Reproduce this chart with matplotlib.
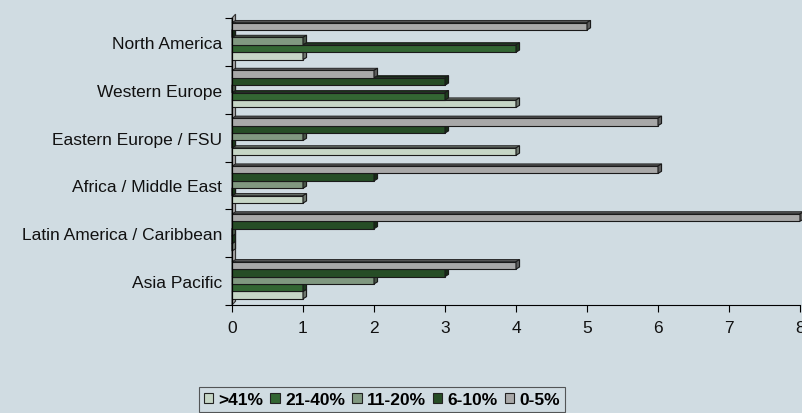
import matplotlib
matplotlib.use("Agg")
import matplotlib.pyplot as plt
from matplotlib.patches import Polygon, Rectangle, Patch
from matplotlib.ticker import FixedLocator, NullFormatter
import numpy as np

plt.rcParams['font.family'] = ['Liberation Sans', 'DejaVu Sans']

categories = ["North America", "Western Europe", "Eastern Europe / FSU",
              "Africa / Middle East", "Latin America / Caribbean", "Asia Pacific"]
series_names = [">41%", "21-40%", "11-20%", "6-10%", "0-5%"]
# values per series, in category order (top to bottom)
v_gt41 = [1, 4, 4, 1, 0, 1]
v_21_40 = [4, 3, 0, 0, 0, 1]
v_11_20 = [1, 0, 1, 1, 0, 2]
v_6_10 = [0, 3, 3, 2, 2, 3]
v_0_5 = [5, 2, 6, 6, 8, 4]
series_values = [v_gt41, v_21_40, v_11_20, v_6_10, v_0_5]
colors = ["#C6D6C6", "#336633", "#809880", "#264D26", "#A8A8A8"]
x_ticks = [0, 1, 2, 3, 4, 5, 6, 7, 8]

bg = "#D0DCE2"

def darker(c, f=0.6):
    rgb = np.array(matplotlib.colors.to_rgb(c))
    return tuple(rgb * f)

fig = plt.figure(figsize=(8.03, 4.14), dpi=100, facecolor=bg)
ax = fig.add_axes([232/803, 1-306/414, (800-232)/803, (306-19)/414])
ax.set_facecolor(bg)

n = len(categories)
ax.set_xlim(0, 8)
ax.set_ylim(-0.5, n - 0.5)

dx = 0.05
dy = 0.045
h = 0.155
edge = "#1A1A1A"

# 3D floor/wall strip on the left
wall = Polygon([(0, -0.5), (dx, -0.5 + 0.08), (dx, n - 0.5 + 0.08), (0, n - 0.5)],
               closed=True, facecolor="#A0A0A0", edgecolor="#333333",
               linewidth=0.8, clip_on=False, zorder=1)
ax.add_patch(wall)

for k, cat in enumerate(categories):
    c = n - 1 - k
    base = c - 0.37
    for j, (vals, col) in enumerate(zip(series_values, colors)):
        v = vals[k]
        y0 = base + j * h
        y1 = y0 + h
        z = 2 + j * 0.1
        rect = Rectangle((0, y0), v, h, facecolor=col, edgecolor=edge,
                         linewidth=0.8, zorder=z)
        ax.add_patch(rect)
        top = Polygon([(0, y1), (dx, y1 + dy), (v + dx, y1 + dy), (v, y1)],
                      closed=True, facecolor=darker(col, 0.5), edgecolor=edge,
                      linewidth=0.6, zorder=z - 0.05, clip_on=False)
        ax.add_patch(top)
        side = Polygon([(v, y0), (v + dx, y0 + dy), (v + dx, y1 + dy), (v, y1)],
                       closed=True, facecolor=darker(col, 0.55), edgecolor=edge,
                       linewidth=0.8, zorder=z + 0.05, clip_on=False)
        ax.add_patch(side)

# axes styling
for s in ["top", "right"]:
    ax.spines[s].set_visible(False)
for s in ["left", "bottom"]:
    ax.spines[s].set_color("black")
    ax.spines[s].set_linewidth(0.8)
    ax.spines[s].set_zorder(10)

ax.set_xticks(x_ticks)
ax.set_xticklabels([str(t) for t in x_ticks], fontsize=12.5, color="#111111")
ax.tick_params(axis="x", direction="out", length=5, width=0.8, pad=6)

ycent = [n - 1 - k for k in range(n)]
ax.yaxis.set_major_locator(FixedLocator(list(np.arange(-0.5, n, 1.0))))
ax.yaxis.set_major_formatter(NullFormatter())
ax.yaxis.set_minor_locator(FixedLocator(ycent))
ax.set_yticklabels(categories, minor=True, fontsize=12.5, color="#111111")
ax.tick_params(axis="y", which="major", direction="out", length=5, width=0.8)
ax.tick_params(axis="y", which="minor", length=0, pad=7)

handles = [Patch(facecolor=col, edgecolor="#222222", linewidth=0.8) for col in colors]
leg = fig.legend(handles, series_names, loc="upper center",
                 bbox_to_anchor=(382/803, 1 - 388/414), ncol=5, frameon=True,
                 fancybox=False, edgecolor="#333333", facecolor=bg,
                 prop={"weight": "bold", "size": 12.5},
                 handlelength=0.55, handleheight=0.55, handletextpad=0.3,
                 columnspacing=0.4, borderpad=0.3, borderaxespad=0)
leg.get_frame().set_linewidth(0.8)

fig.savefig("out.png", dpi=100, facecolor=bg)
